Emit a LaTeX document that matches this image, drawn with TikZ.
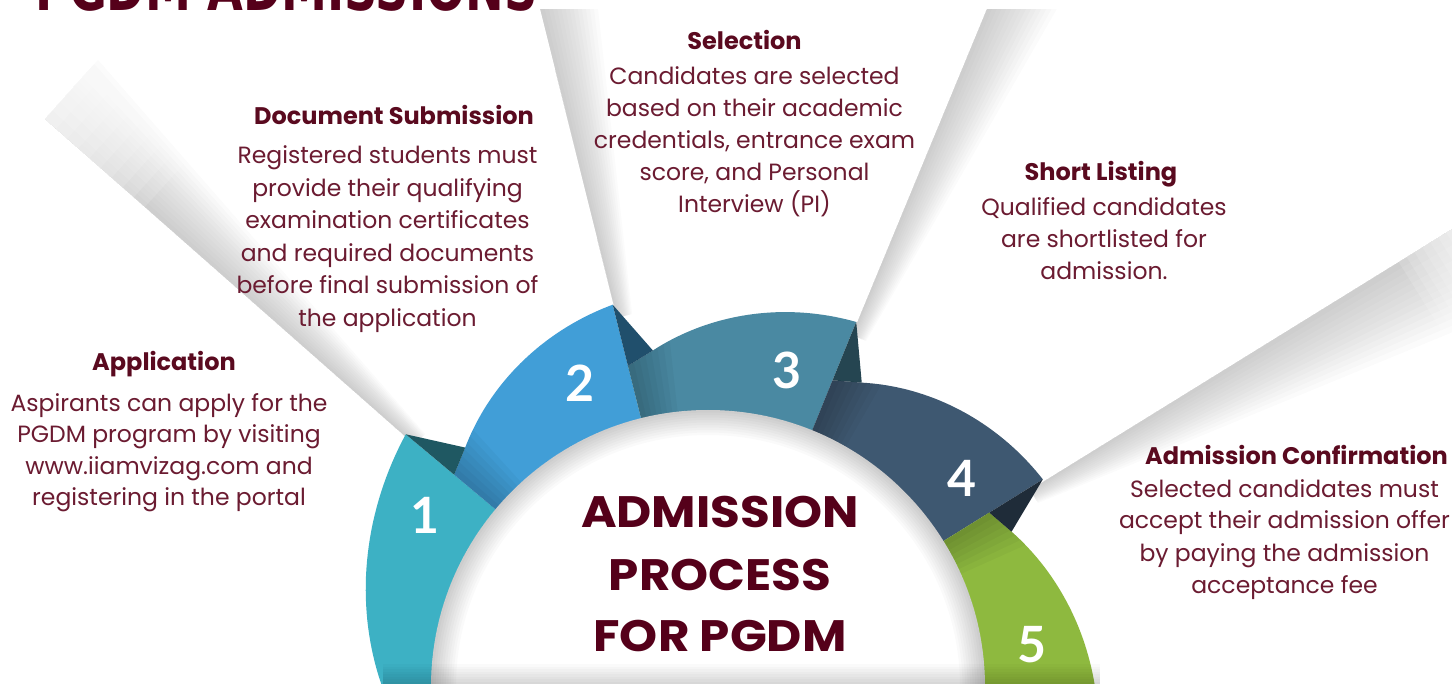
\documentclass[tikz,border=0pt]{standalone}
\usepackage{fontspec}
\setmainfont{Poppins}
\newfontfamily\numfont{Lato}
\newfontfamily\bigfont{DejaVu Sans}
\usetikzlibrary{calc}
\definecolor{segA}{HTML}{3DB1C4}
\definecolor{segB}{HTML}{419ED7}
\definecolor{segC}{HTML}{4A89A2}
\definecolor{segD}{HTML}{3E5871}
\definecolor{segE}{HTML}{8EB93F}
\definecolor{headc}{HTML}{5A0A1F}
\definecolor{bodyc}{HTML}{6B1B31}
\definecolor{titlec}{HTML}{55001A}
\definecolor{beamc}{HTML}{8E8E8E}
% segment outline: #1 start junction angle, #2 end angle
\newcommand\segpath[2]{(#1:250) -- (#1:331) -- ({#1-4.7}:341) -- plot[domain=0:1,samples=40] ({#1-4.7-\x*(#1-4.7-(#2))}:{341+53*(\x+0.55*\x*(1-\x))}) -- (#2:250) arc[start angle=#2, end angle=#1, radius=250] -- cycle}
\newcommand\beamstrips[4]{\foreach \k in {1,...,14}{\fill[beamc, opacity=0.035] #1 -- #2 -- ($#2!\k/14!#3$) -- ($#1!\k/14!#4$) -- cycle;}}
% fade-out of a beam's far end: #5 = fraction where fading starts
\newcommand\beamfade[5]{\foreach \k in {1,...,10}{\fill[white, opacity=0.14] ($#1!{#5+(1-#5)*\k/10}!#2$) -- ($#1!1.03!#2$) -- ($#4!1.03!#3$) -- ($#4!{#5+(1-#5)*\k/10}!#3$) -- cycle;}}
\begin{document}
\begin{tikzpicture}[x=1pt,y=-1pt,
  head/.style={font=\fontsize{24}{28}\selectfont\bfseries, text=headc, inner sep=0pt, anchor=base},
  body/.style={font=\fontsize{23.5}{28}\selectfont, text=bodyc, inner sep=0pt, anchor=base},
  num/.style={font=\numfont\bfseries\fontsize{50}{50}\selectfont, text=white, inner sep=0pt},
  ttl/.style={font=\fontsize{44}{44}\selectfont\bfseries, text=titlec, inner sep=0pt, anchor=base}]
\useasboundingbox (0,0) rectangle (1452,684);
\clip (0,0) rectangle (1452,684);
\fill[white] (0,0) rectangle (1452,684);
% beams
\begin{scope}
\clip (0,10) rectangle (1452,684);
\beamstrips{(415,445)}{(45,119)}{(98,60)}{(425,434)}
\beamstrips{(617,318)}{(533,-20)}{(593,-35)}{(632,314)}
\beamstrips{(852,335)}{(999,-20)}{(1059,5)}{(866,341)}
\beamstrips{(1030,490)}{(1470,218)}{(1523,303)}{(1038,503)}
\beamfade{(415,445)}{(45,119)}{(98,60)}{(425,434)}{0.7}
\beamfade{(1030,490)}{(1470,218)}{(1523,303)}{(1038,503)}{0.82}
\end{scope}
% ring
\begin{scope}[shift={(708,687)}, yscale=-1]
\fill[segA] (185:250) -- plot[domain=0:1,samples=40] ({185-\x*44.9}:{315.4+78.6*(\x+0.2*\x*(1-\x))}) -- (140.1:250) arc[start angle=140.1,end angle=185,radius=250] -- cycle;
\fill[segB] \segpath{140.1}{104.0};
\fill[segC] \segpath{104.0}{67.9};
\fill[segD] \segpath{67.9}{31.8};
\fill[segE] \segpath{31.8}{-8};
% end faces
\fill[segA!50!black] (140.1:394) -- (135.4:341) -- (140.1:331) -- cycle;
\fill[segB!50!black] (104.0:394) -- (99.3:341) -- (104.0:331) -- cycle;
\fill[segC!50!black] (67.9:394) -- (63.2:341) -- (67.9:331) -- cycle;
\fill[segD!50!black] (31.8:394) -- (27.1:341) -- (31.8:331) -- cycle;
% start shadows
\foreach \s/\e in {140.1/104.0, 104.0/67.9, 67.9/31.8, 31.8/-8}{
  \begin{scope}
  \clip \segpath{\s}{\e};
  \foreach \k in {1,...,7}{\fill[black,opacity=0.03] (0,0) -- (\s:420) -- ({\s-\k*1.1}:420) -- cycle;}
  \end{scope}
}
% centre disc
\fill[white] (0,0) circle (277);
\begin{scope}
\clip (0,0) circle (277);
\foreach \k in {1,...,10}{\draw[black, opacity=0.02, line width={\k*5pt}] (0,0) circle (277);}
\end{scope}
\end{scope}
% bottom shadow
\begin{scope}
\clip (383,600) rectangle (1100,684);
\foreach \k in {1,...,8}{\fill[black, opacity=0.018] (383,{684-\k*2.5}) rectangle (1100,684);}
\end{scope}
% top title (cut off)
\node[anchor=base west, inner sep=0pt, text=titlec] (pg) at (35,11) {\scalebox{0.745}[1]{\bigfont\bfseries\fontsize{62}{62}\selectfont PGDM ADMISSIONS}};
% numbers
\node[num] (n1) at (425,515) {1};
\node[num] (n2) at (580,383) {2};
\node[num] (n3) at (787,370) {3};
\node[num] (n4) at (962,478) {4};
\node[num] (n5) at (1032,645) {5};
% centre title
\node[ttl] (t1) at (720,527) {\scalebox{1.1}[1]{ADMISSION}};
\node[ttl] (t2) at (720,590) {\scalebox{1.1}[1]{PROCESS}};
\node[ttl] (t3) at (720,651) {\scalebox{1.1}[1]{FOR PGDM}};
% Application
\node[head] (ah) at (164,371) {Application};
\node[body] (a1) at (169,412) {Aspirants can apply for the};
\node[body] (a2) at (169,443) {PGDM program by visiting};
\node[body] (a3) at (169,475) {www.iiamvizag.com and};
\node[body] (a4) at (169,506) {registering in the portal};
% Document Submission
\node[head] (dh) at (394,125) {Document Submission};
\node[body] (d1) at (387.5,164) {Registered students must};
\node[body] (d2) at (387.5,196.5) {provide their qualifying};
\node[body] (d3) at (387.5,229) {examination certificates};
\node[body] (d4) at (387.5,261.5) {and required documents};
\node[body] (d5) at (387.5,294) {before final submission of};
\node[body] (d6) at (387.5,326.5) {the application};
% Selection
\node[head] (sh) at (744.5,50) {Selection};
\node[body] (s1) at (754.5,85) {Candidates are selected};
\node[body] (s2) at (754.5,117) {based on their academic};
\node[body] (s3) at (754.5,149) {credentials, entrance exam};
\node[body] (s4) at (754.5,181) {score, and Personal};
\node[body] (s5) at (754.5,213) {Interview (PI)};
% Short Listing
\node[head] (lh) at (1101,181) {Short Listing};
\node[body] (l1) at (1104,216) {Qualified candidates};
\node[body] (l2) at (1104,248) {are shortlisted for};
\node[body] (l3) at (1104,280) {admission.};
% Admission Confirmation
\node[head] (ch) at (1296.5,465) {Admission Confirmation};
\node[body] (c1) at (1284.5,497) {Selected candidates must};
\node[body] (c2) at (1284.5,529) {accept their admission offer};
\node[body] (c3) at (1284.5,561) {by paying the admission};
\node[body] (c4) at (1284.5,593) {acceptance fee};
\end{tikzpicture}
\end{document}
